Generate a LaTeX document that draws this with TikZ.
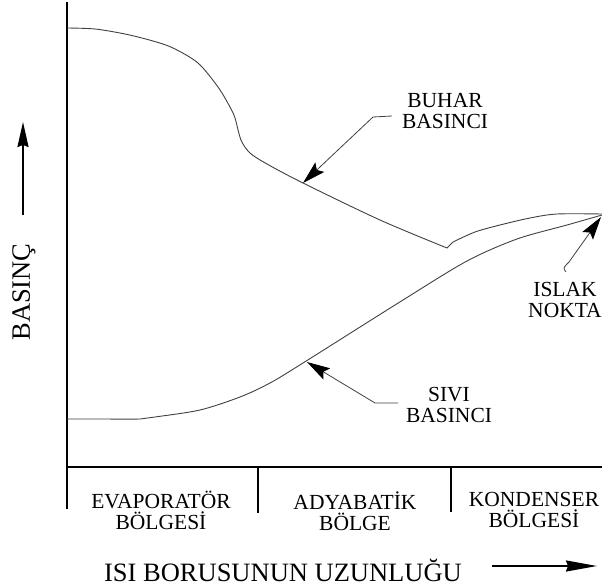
\documentclass[tikz,border=0pt]{standalone}
\usepackage{fontspec}
\setmainfont{Liberation Serif}
\usetikzlibrary{arrows.meta}
\begin{document}
\begin{tikzpicture}[x=1pt,y=-1pt,
  axis/.style={line width=1.8pt, line cap=rect},
  curve/.style={line width=0.9pt, draw=black!75},
  lbl/.style={font=\fontsize{21.5}{21}\selectfont, align=center, inner sep=0pt},
  biglbl/.style={font=\fontsize{26.5}{28}\selectfont, inner sep=0pt},
  pointer/.style={line width=0.8pt, draw=black!75, -{Stealth[length=23pt,width=13pt,inset=4pt,color=black,fill=black]}},
  bigarrow/.style={line width=1.8pt, -{Stealth[length=25pt,width=11pt,inset=2pt]}}]
\useasboundingbox (0,0) rectangle (602,586);

% axes and region box
\coordinate (ytop) at (67,3);
\coordinate (ybot) at (67,508);
\coordinate (xl) at (67,467);
\coordinate (xr) at (603,467);
\coordinate (d1t) at (258,467);
\coordinate (d1b) at (258,512);
\coordinate (d2t) at (451,467);
\coordinate (d2b) at (451,511);
\draw[axis] (ytop) -- (ybot);
\draw[axis] (xl) -- (xr);
\draw[axis] (d1t) -- (d1b);
\draw[axis] (d2t) -- (d2b);

% vapour pressure curve
\draw[curve] plot[smooth, tension=0.5] coordinates {(67,28) (95,29) (125,34) (153,41) (173,48) (198,63) (218,87) (230,107) (235,118) (241,140) (250,153) (267,164) (303,183) (380,220) (447,248)}
  -- (453,242) plot[smooth, tension=0.5] coordinates {(453,242) (475,232) (500,225) (530,218) (557,214) (602,214)};

% liquid pressure curve
\draw[curve] plot[smooth, tension=0.5] coordinates {(67,419) (100,419) (140,419) (155,417) (200,410) (240,397) (270,383) (303,363) (403,300) (467,261) (517,239) (567,225) (602,215)};

% labels
\node[lbl] (buhar) at (445,111) {BUHAR\\BASINCI};
\node[lbl] (sivi) at (449,405) {SIVI\\BASINCI};
\node[lbl] (islak) at (565,300) {ISLAK\\NOKTA};
\node[lbl] (evap) at (161,510) {EVAPORATÖR\\BÖLGESİ};
\node[lbl] (adya) at (355,511) {ADYABATİK\\BÖLGE};
\node[lbl] (kond) at (534,510) {KONDENSER\\BÖLGESİ};
\node[biglbl, rotate=90] (basinc) at (24,292) {BASINÇ};
\node[biglbl] (uzun) at (283,570) {ISI BORUSUNUN UZUNLUĞU};

% pointers
\coordinate (bt1) at (392,116);
\coordinate (bt2) at (373,117);
\coordinate (btip) at (303,183);
\draw[pointer] (bt1) -- (bt2) -- (btip);

\coordinate (st1) at (398,403);
\coordinate (st2) at (375,403);
\coordinate (stip) at (307,362);
\draw[pointer] (st1) -- (st2) -- (stip);

\coordinate (it1) at (566,272);
\coordinate (it2) at (569,262);
\coordinate (itip) at (601,217);
\draw[pointer] (it1) .. controls (563,268) .. (it2) -- (itip);

% axis direction arrows
\coordinate (ua1) at (23,215);
\coordinate (ua2) at (23,122);
\draw[bigarrow] (ua1) -- (ua2);
\coordinate (ra1) at (492,566);
\coordinate (ra2) at (597,566);
\draw[bigarrow, -{Stealth[length=31pt,width=11pt,inset=2pt]}] (ra1) -- (ra2);
\end{tikzpicture}
\end{document}
